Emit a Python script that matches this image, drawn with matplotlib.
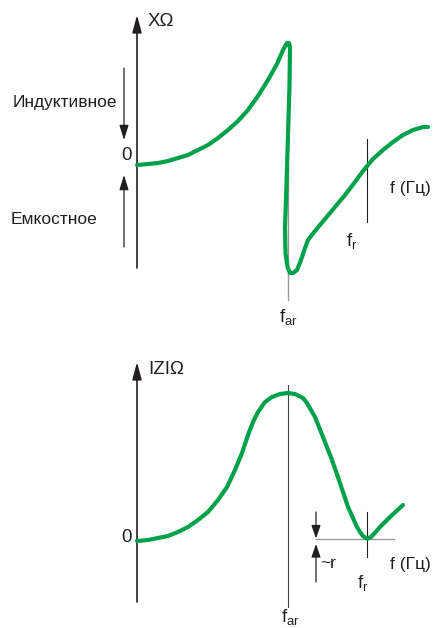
import matplotlib.pyplot as plt

plt.rcParams['font.family'] = ['Liberation Sans', 'DejaVu Sans']
plt.rcParams['mathtext.fontset'] = 'custom'
plt.rcParams['mathtext.rm'] = 'Liberation Sans'
plt.rcParams['mathtext.it'] = 'Liberation Sans'

# frequency in arbitrary units, origin at the vertical axis
f_ar = 1.51
f_r = 2.30

# reactance X(f)
fx = [0.00, 0.11, 0.21, 0.31, 0.41, 0.51, 0.61, 0.71, 0.81, 0.91, 1.01, 1.11,
      1.21, 1.31, 1.40, 1.46, 1.50, 1.52, 1.53, 1.525, 1.51, 1.50, 1.49, 1.48,
      1.485, 1.505, 1.53, 1.56, 1.60, 1.64, 1.68, 1.71, 1.78, 1.88, 1.98, 2.08,
      2.18, 2.26, 2.31, 2.36, 2.46, 2.56, 2.66, 2.76, 2.86, 2.91]
x_ohm = [0.00, 0.01, 0.02, 0.04, 0.07, 0.10, 0.15, 0.20, 0.27, 0.35, 0.44, 0.55,
         0.69, 0.85, 1.01, 1.15, 1.22, 1.22, 1.17, 0.80, 0.30, -0.03, -0.35, -0.62,
         -0.88, -1.02, -1.08, -1.08, -1.05, -0.95, -0.83, -0.75, -0.66, -0.54, -0.42, -0.30,
         -0.17, -0.06, 0.00, 0.06, 0.15, 0.23, 0.30, 0.35, 0.38, 0.38]

# impedance |Z|(f)
fz = [0.00, 0.11, 0.21, 0.31, 0.41, 0.51, 0.61, 0.71, 0.81, 0.90, 0.98, 1.05,
      1.11, 1.16, 1.21, 1.28, 1.35, 1.43, 1.51, 1.58, 1.62, 1.66, 1.70, 1.74,
      1.78, 1.86, 1.95, 2.03, 2.11, 2.155, 2.20, 2.23, 2.26, 2.29, 2.31, 2.34,
      2.36, 2.43, 2.53, 2.66]
z_ohm = [0.03, 0.04, 0.06, 0.08, 0.12, 0.17, 0.24, 0.32, 0.44, 0.57, 0.74, 0.91,
         1.09, 1.22, 1.32, 1.42, 1.47, 1.50, 1.51, 1.50, 1.48, 1.46, 1.41, 1.34,
         1.27, 1.07, 0.84, 0.61, 0.37, 0.27, 0.17, 0.12, 0.08, 0.057, 0.057, 0.07,
         0.09, 0.17, 0.27, 0.39]
r_min = 0.055

green = '#00a14b'
ink = '#231f20'
fs = 12.5


def arrow(ax, start, end, hl, hw, lw=1.2, color=ink):
    ax.annotate('', xy=end, xytext=start,
                arrowprops=dict(arrowstyle='-|>,head_length=%g,head_width=%g' % (hl, hw),
                                color=color, lw=lw, shrinkA=0, shrinkB=0,
                                mutation_scale=1))


fig = plt.figure(figsize=(4.36, 6.28), dpi=100)

# ---- upper plot: reactance
ax1 = fig.add_axes([0, 1 - 330 / 628, 1, 330 / 628])
ax1.set_xlim(-1.37, 2.99)
ax1.set_ylim(-1.65, 1.65)
ax1.axis('off')

ax1.plot([f_ar, f_ar], [0, -1.35], color='#999999', lw=1.0)
ax1.plot([f_r, f_r], [0.26, -0.57], color=ink, lw=0.8)
arrow(ax1, (0, -1.03), (0, 1.50), 10.5, 2.8)
arrow(ax1, (-0.07, 0), (3.05, 0), 9, 3)
ax1.plot(fx, x_ohm, color=green, lw=3.0, solid_joinstyle='round',
         solid_capstyle='round', zorder=3)

arrow(ax1, (-0.13, 0.97), (-0.13, 0.25), 9, 2.8, lw=0.9)
arrow(ax1, (-0.13, -0.82), (-0.13, -0.10), 9, 2.8, lw=0.9)

ax1.text(0.11, 1.43, 'XΩ', fontsize=13.5, ha='left', va='center', color=ink)
ax1.text(-0.72, 0.62, 'Индуктивное', fontsize=fs, ha='center', va='center', color=ink)
ax1.text(-0.83, -0.54, 'Емкостное', fontsize=fs, ha='center', va='center', color=ink)
ax1.text(-0.11, 0.10, '0', fontsize=13.5, ha='center', va='center', color=ink)
ax1.text(2.53, -0.23, 'f (Гц)', fontsize=fs, ha='left', va='center', color=ink)
ax1.text(f_r - 0.15, -0.76, r'$\mathregular{f_r}$', fontsize=13.5, ha='center', va='center', color=ink)
ax1.text(f_ar, -1.52, r'$\mathregular{f_{ar}}$', fontsize=13.5, ha='center', va='center', color=ink)

# ---- lower plot: impedance
ax2 = fig.add_axes([0, 0, 1, 298 / 628])
ax2.set_xlim(-1.37, 2.99)
ax2.set_ylim(-0.84, 2.14)
ax2.axis('off')

ax2.plot([f_ar, f_ar], [1.59, -0.63], color='#444444', lw=0.8)
ax2.plot([f_r, f_r], [0.32, -0.13], color=ink, lw=0.8)
ax2.plot([1.79, 2.57], [r_min, r_min], color='#999999', lw=1.0)
arrow(ax2, (0, -0.58), (0, 1.82), 10.5, 2.8)
arrow(ax2, (-0.07, 0), (3.05, 0), 9, 3)
ax2.plot(fz, z_ohm, color=green, lw=3.0, solid_joinstyle='round',
         solid_capstyle='round', zorder=3)

arrow(ax2, (1.79, 0.32), (1.79, r_min), 8, 2.8, lw=0.9)
arrow(ax2, (1.79, -0.38), (1.79, 0), 8, 2.8, lw=0.9)

ax2.text(0.11, 1.74, 'IZIΩ', fontsize=13.5, ha='left', va='center', color=ink)
ax2.text(-0.11, 0.06, '0', fontsize=13.5, ha='center', va='center', color=ink)
ax2.text(1.83, -0.20, '~r', fontsize=fs, ha='left', va='center', color=ink)
ax2.text(2.53, -0.21, 'f (Гц)', fontsize=fs, ha='left', va='center', color=ink)
ax2.text(f_r - 0.04, -0.39, r'$\mathregular{f_r}$', fontsize=13.5, ha='center', va='center', color=ink)
ax2.text(f_ar + 0.02, -0.73, r'$\mathregular{f_{ar}}$', fontsize=13.5, ha='center', va='center', color=ink)

fig.savefig('out.png', dpi=100)
